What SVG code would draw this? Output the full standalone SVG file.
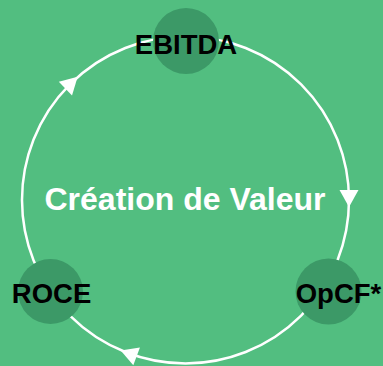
<svg xmlns="http://www.w3.org/2000/svg" width="383" height="366" viewBox="0 0 383 366">
<style>
.node{fill:#3C9967;}
.lbl{font-family:"Liberation Sans",Arial,sans-serif;font-weight:bold;font-size:27.5px;fill:#000;text-anchor:middle;}
.title{font-family:"Liberation Sans",Arial,sans-serif;font-weight:bold;font-size:32px;fill:#fff;text-anchor:middle;}
.ring{fill:none;stroke:#fff;stroke-width:2.5;}
</style>
<defs>
<path id="ah" d="M8,0 L-9,-9.5 L-9,9.5 Z" fill="#fff"/>
</defs>
<rect width="383" height="366" fill="#52BE80"/>
<g id="connectors">
<circle class="ring" cx="185.5" cy="200" r="163.5"/>
<use href="#ah" transform="translate(349,199) rotate(90)"/>
<use href="#ah" transform="translate(71.9,82.4) rotate(-44)"/>
<use href="#ah" transform="translate(128.2,353.2) rotate(200.5)"/>
</g>
<g id="ebitda">
<circle class="node" cx="186" cy="41" r="33"/>
<text class="lbl" x="186" y="54">EBITDA</text>
</g>
<g id="roce">
<circle class="node" cx="50.5" cy="291.5" r="32.5"/>
<text class="lbl" x="51.5" y="303">ROCE</text>
</g>
<g id="opcf">
<circle class="node" cx="328.5" cy="291.5" r="33"/>
<text class="lbl" x="338.5" y="303">OpCF*</text>
</g>
<g id="center">
<text class="title" x="185" y="210">Création de Valeur</text>
</g>
</svg>
